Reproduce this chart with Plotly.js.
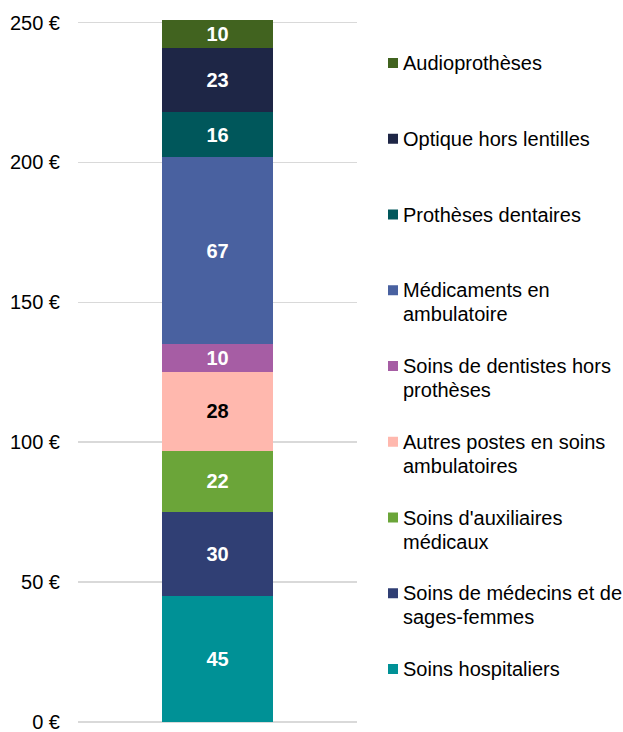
<!DOCTYPE html>
<html>
<head>
<meta charset="utf-8">
<script src="https://cdn.plot.ly/plotly-3.0.1.min.js"></script>
<style>
  html, body { margin: 0; padding: 0; background: #ffffff; }
  #chart { width: 623px; height: 732px; }
</style>
</head>
<body>
<div id="chart"></div>
<script>
// ---- data (bottom of stack first) ----
var categories = [
  "Soins hospitaliers",
  "Soins de médecins et de sages-femmes",
  "Soins d'auxiliaires médicaux",
  "Autres postes en soins ambulatoires",
  "Soins de dentistes hors prothèses",
  "Médicaments en ambulatoire",
  "Prothèses dentaires",
  "Optique hors lentilles",
  "Audioprothèses"
];
var legendLines = [
  ["Soins hospitaliers"],
  ["Soins de médecins et de", "sages-femmes"],
  ["Soins d'auxiliaires", "médicaux"],
  ["Autres postes en soins", "ambulatoires"],
  ["Soins de dentistes hors", "prothèses"],
  ["Médicaments en", "ambulatoire"],
  ["Prothèses dentaires"],
  ["Optique hors lentilles"],
  ["Audioprothèses"]
];
var values = [45, 30, 22, 28, 10, 67, 16, 23, 10];
var colors = ["#009196", "#303F74", "#6BA539", "#FFB8AE", "#A65DA4",
              "#4961A0", "#00575B", "#1E2646", "#41631F"];
var labelColors = ["#ffffff", "#ffffff", "#ffffff", "#000000", "#ffffff",
                   "#ffffff", "#ffffff", "#ffffff", "#ffffff"];
var xCat = ["Dépense"];
var yTicks = [0, 50, 100, 150, 200, 250];

// ---- layout geometry ----
var W = 623, H = 732;
var mL = 78, mR = 266, mT = 17, mB = 10;
var plotW = W - mL - mR, plotH = H - mT - mB;
function px2x(px) { return (px - mL) / plotW; }
function py2y(py) { return (H - mB - py) / plotH; }

var FONT = "Liberation Sans, Arial, sans-serif";

var traces = categories.map(function (c, i) {
  return {
    type: "bar",
    name: c,
    x: xCat,
    y: [values[i]],
    width: 0.4,
    marker: { color: colors[i], line: { width: 0 } },
    text: [String(values[i])],
    texttemplate: "<b>%{text}</b>",
    textposition: "inside",
    insidetextanchor: "middle",
    constraintext: "none",
    textangle: 0,
    textfont: { family: FONT, size: 20, color: labelColors[i] },
    hoverinfo: "skip",
    showlegend: false
  };
});

// manual legend (top item = last series)
var shapes = [], annotations = [];
var legTop = 63, legStep = 75.75, lineH = 24;
for (var k = 0; k < categories.length; k++) {
  var idx = categories.length - 1 - k;
  var cy = legTop + k * legStep;
  shapes.push({
    type: "rect", xref: "paper", yref: "paper",
    x0: px2x(388), x1: px2x(398), y0: py2y(cy + 5), y1: py2y(cy - 5),
    fillcolor: colors[idx], line: { width: 0 }
  });
  legendLines[idx].forEach(function (ln, j) {
    annotations.push({
      xref: "paper", yref: "paper",
      x: px2x(401), y: py2y(cy + j * lineH),
      xanchor: "left", yanchor: "middle",
      text: ln, showarrow: false,
      font: { family: FONT, size: 20, color: "#000000" }
    });
  });
}

var layout = {
  width: W, height: H,
  margin: { l: mL, r: mR, t: mT, b: mB, pad: 0 },
  paper_bgcolor: "#ffffff",
  plot_bgcolor: "#ffffff",
  barmode: "stack",
  showlegend: false,
  font: { family: FONT, size: 20, color: "#000000" },
  xaxis: {
    showticklabels: false, showgrid: false, zeroline: false,
    showline: false, ticks: "", fixedrange: true
  },
  yaxis: {
    range: [0, 252],
    tickvals: yTicks,
    ticktext: yTicks.map(function (v) { return v + " €"; }),
    showgrid: true, gridcolor: "#D9D9D9", gridwidth: 1.5,
    zeroline: true, zerolinecolor: "#D9D9D9", zerolinewidth: 1.5,
    showline: false, ticks: "",
    ticklabelstandoff: 17,
    ticklabeloverflow: "allow",
    tickfont: { family: FONT, size: 20, color: "#000000" },
    fixedrange: true
  },
  shapes: shapes,
  annotations: annotations
};

Plotly.newPlot("chart", traces, layout, { displayModeBar: false, staticPlot: true });
</script>
</body>
</html>
